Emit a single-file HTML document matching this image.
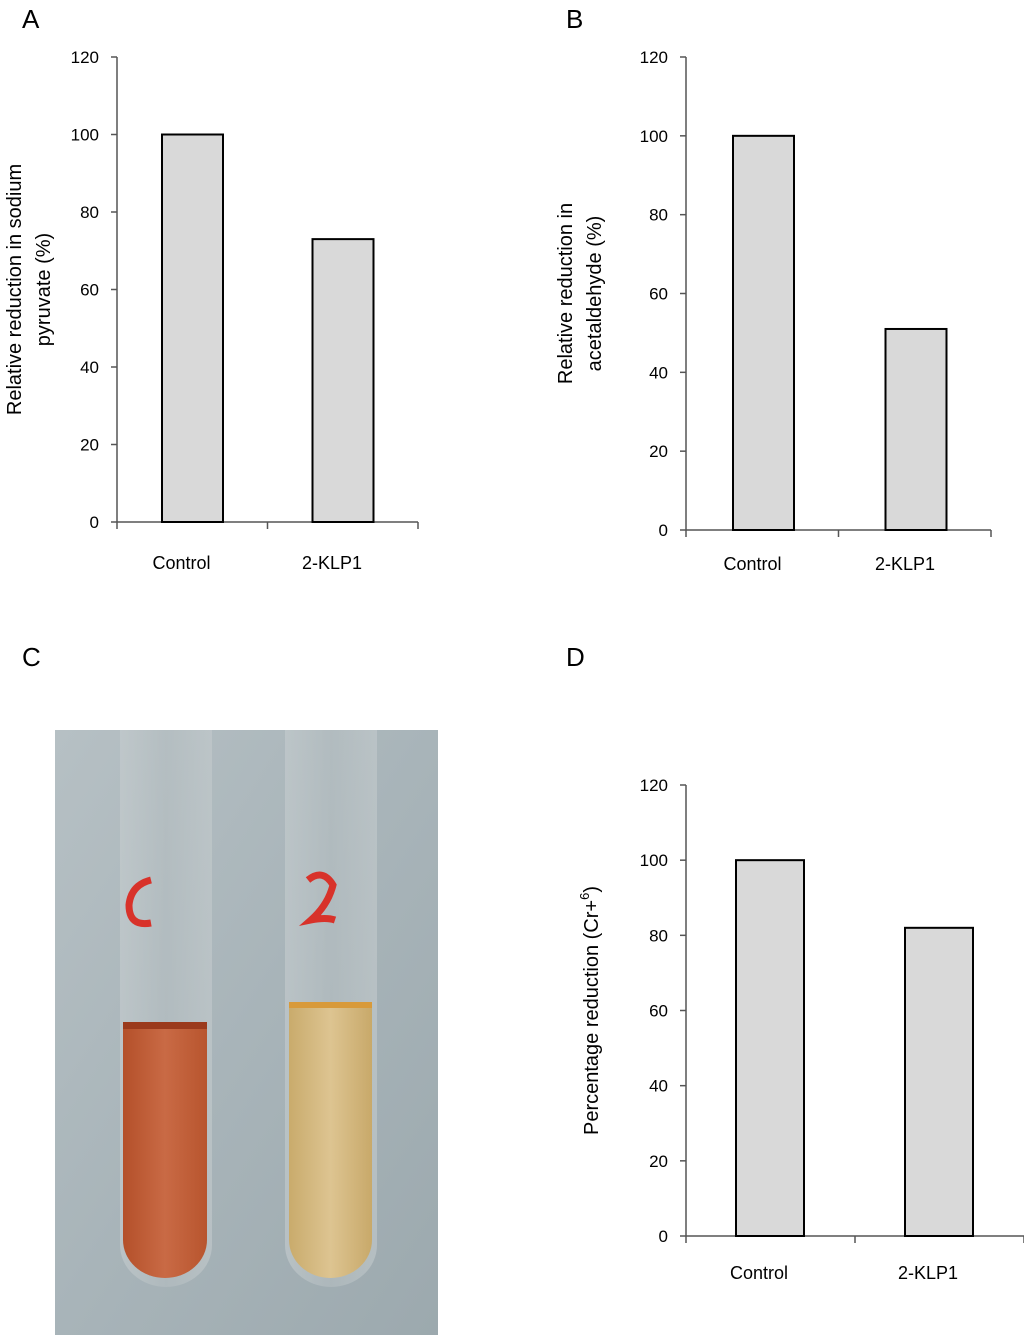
<!DOCTYPE html>
<html><head><meta charset="utf-8"><style>
html,body{margin:0;padding:0;background:#fff;}
svg{display:block;font-family:"Liberation Sans",Arial,sans-serif;}
</style></head><body>
<svg width="1024" height="1335" viewBox="0 0 1024 1335">
<defs>
<linearGradient id="bg" x1="0" y1="0" x2="1" y2="1"><stop offset="0" stop-color="#b6c0c4"/><stop offset="0.5" stop-color="#a8b4b9"/><stop offset="1" stop-color="#9ca9ae"/></linearGradient>
<linearGradient id="red" x1="0" y1="0" x2="1" y2="0"><stop offset="0" stop-color="#b4502a"/><stop offset="0.5" stop-color="#c96a45"/><stop offset="1" stop-color="#b8552e"/></linearGradient>
<linearGradient id="yel" x1="0" y1="0" x2="1" y2="0"><stop offset="0" stop-color="#c9ab6c"/><stop offset="0.5" stop-color="#ddc491"/><stop offset="1" stop-color="#c8a96a"/></linearGradient>
<linearGradient id="glass" x1="0" y1="0" x2="1" y2="0"><stop offset="0" stop-color="#c6cdcf"/><stop offset="0.5" stop-color="#b5bec1"/><stop offset="1" stop-color="#c4cbcd"/></linearGradient>
</defs>
<g id="charts"></g>
<text x="22" y="28" font-size="26">A</text>
<text x="566" y="28" font-size="26">B</text>
<text x="22" y="666" font-size="26">C</text>
<text x="566" y="666" font-size="26">D</text>
<g>
<rect x="55" y="730" width="383" height="605" fill="url(#bg)"/>
<path d="M120 730 H212 V1245 A46 42 0 0 1 120 1245 Z" fill="url(#glass)" opacity="0.6"/>
<path d="M285 730 H377 V1245 A46 42 0 0 1 285 1245 Z" fill="url(#glass)" opacity="0.6"/>
<path d="M123 1025 H207 V1240 A42 38 0 0 1 123 1240 Z" fill="url(#red)"/>
<rect x="123" y="1022" width="84" height="7" fill="#9b3a1c"/>
<path d="M289 1005 H372 V1240 A41.5 38 0 0 1 289 1240 Z" fill="url(#yel)"/>
<rect x="289" y="1002" width="83" height="6" fill="#d89a3a"/>
<path d="M151 880 q-20 5 -22 25 q0 22 22 18" stroke="#d8322a" stroke-width="7" fill="none"/>
<path d="M308 880 q15 -12 25 5 q-5 20 -22 35 q15 -3 24 0" stroke="#d8322a" stroke-width="7" fill="none"/>
</g>
<script>
const catsA=["Control","2-KLP1"], valsA=[100,73];
const catsB=["Control","2-KLP1"], valsB=[100,51];
const catsD=["Control","2-KLP1"], valsD=[100,82];
const ticks=[0,20,40,60,80,100,120];
const NS="http://www.w3.org/2000/svg";
const root=document.getElementById('charts');
function mk(t,a,p){const e=document.createElementNS(NS,t);for(const k in a)e.setAttribute(k,a[k]);(p||root).appendChild(e);return e;}
function chart(id,cats,vals,ax,top,bot,right,barW,barOff,title,tx,fs,labDy,sup){
  const g=mk('g',{});
  
  
  const y=v=>bot-(v/120)*(bot-top);
  const slot=(right-ax)/cats.length;
  let l=mk('line',{x1:ax,y1:top,x2:ax,y2:bot,stroke:'#555','stroke-width':1.5},g);
  
  
  l=mk('line',{x1:ax,y1:bot,x2:right,y2:bot,stroke:'#555','stroke-width':1.5},g);
  
  
  ticks.forEach(t=>{
    mk('line',{x1:ax-6,y1:y(t),x2:ax,y2:y(t),stroke:'#555','stroke-width':1.5},g);
    const tt=mk('text',{x:ax-18,y:y(t)+6,'font-size':17,'text-anchor':'end'},g);
    tt.textContent=t;
    
    
  });
  for(let i=0;i<=cats.length;i++) mk('line',{x1:ax+i*slot,y1:bot,x2:ax+i*slot,y2:bot+7,stroke:'#555','stroke-width':1.5},g);
  cats.forEach((c,i)=>{
    const x=ax+i*slot+barOff;
    const r=mk('rect',{x:x,y:y(vals[i]),width:barW,height:bot-y(vals[i]),fill:'#d9d9d9',stroke:'#000','stroke-width':2},g);
    
    
    const t=mk('text',{x:x+barW/2-11,y:bot+labDy,'font-size':18,'text-anchor':'middle'},g);
    t.textContent=c;
    
    
  });
  const ti=mk('text',{transform:`translate(${tx},${(top+bot)/2}) rotate(-90)`,'font-size':fs,'text-anchor':'middle'},g);
  
  
  title.forEach((ln,k)=>{const s=mk('tspan',{x:0,dy:k?29:(title.length>1?-14:0)},ti);s.textContent=ln;});
  if(sup){
    const s1=mk('tspan',{dy:-9,'font-size':13},ti);s1.textContent=sup;
    const s2=mk('tspan',{dy:9},ti);s2.textContent=')';
  }
}
chart('a',catsA,valsA,117,57,522,418,61,45,["Relative reduction in sodium","pyruvate (%)"],35,20,47);
chart('b',catsB,valsB,686,57,530,991,61,47,["Relative reduction in","acetaldehyde (%)"],586,20,40);
chart('d',catsD,valsD,686,785,1236,1024,68,50,["Percentage reduction (Cr+"],598,20,43,"6");
</script>
</svg>
</body></html>
